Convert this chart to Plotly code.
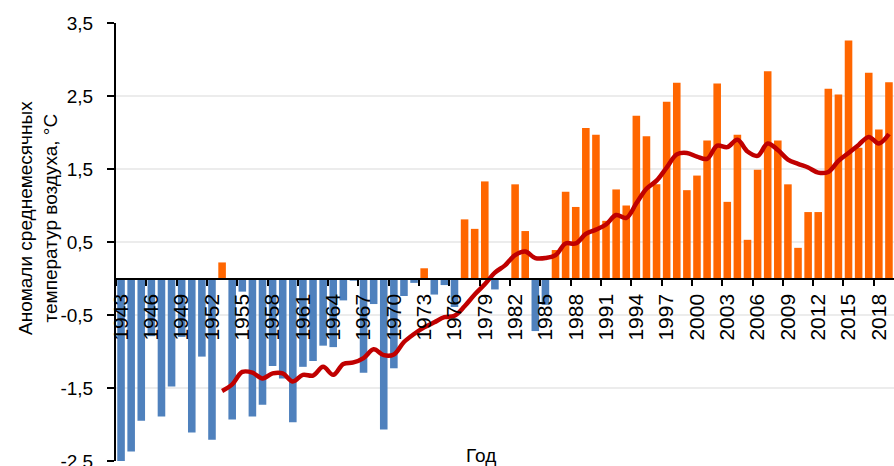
import plotly.graph_objects as go

# ---- data ----
years = list(range(1943, 2020))
anomaly = [
    -2.53, -2.37, -1.95, -0.79, -1.89, -1.48, -0.80, -2.11, -1.07, -2.21,   # 1943-1952
    0.22, -1.93, -0.18, -1.89, -1.73, -1.20, -1.37, -1.97, -1.21, -1.13,    # 1953-1962
    -0.92, -0.94, -0.30, -0.03, -1.29, -0.35, -2.07, -1.23, -0.24, -0.06,   # 1963-1972
    0.14, -0.22, -0.09, -0.39, 0.81, 0.68, 1.33, -0.15, -0.01, 1.29,        # 1973-1982
    0.65, -0.72, -0.36, 0.39, 1.19, 0.98, 2.06, 1.97, 0.79, 1.22,           # 1983-1992
    1.00, 2.23, 1.95, 1.29, 2.42, 2.68, 1.21, 1.41, 1.89, 2.67,             # 1993-2002
    1.05, 1.97, 0.53, 1.49, 2.84, 1.89, 1.29, 0.42, 0.91, 0.91,             # 2003-2012
    2.60, 2.52, 3.26, 1.79, 2.82, 2.04, 2.69,                               # 2013-2019
]
trend_years = list(range(1953, 2020))
trend = [
    -1.54, -1.45, -1.28, -1.29, -1.37, -1.30, -1.30, -1.41, -1.32, -1.33,   # 1953-1962
    -1.21, -1.32, -1.17, -1.15, -1.09, -0.97, -1.05, -1.04, -0.87, -0.76,   # 1963-1972
    -0.67, -0.60, -0.53, -0.51, -0.38, -0.22, -0.08, 0.08, 0.18, 0.32,      # 1973-1982
    0.37, 0.28, 0.28, 0.32, 0.48, 0.48, 0.61, 0.67, 0.74, 0.87,             # 1983-1992
    0.83, 1.03, 1.23, 1.34, 1.52, 1.70, 1.72, 1.67, 1.64, 1.82,             # 1993-2002
    1.80, 1.90, 1.74, 1.68, 1.85, 1.76, 1.63, 1.57, 1.52, 1.45,             # 2003-2012
    1.46, 1.61, 1.72, 1.83, 1.94, 1.85, 1.98,                               # 2013-2019
]
x_tick_years = list(range(1943, 2020, 3))
x_tick_text = [str(y) for y in x_tick_years]
y_tick_vals = [-2.5, -1.5, -0.5, 0.5, 1.5, 2.5, 3.5]
y_tick_text = ["-2,5", "-1,5", "-0,5", "0,5", "1,5", "2,5", "3,5"]
y_title = "Аномали среднемесячных<br>температур воздуха, °C"
x_title = "Год"

# ---- style ----
FONT = "Arial, 'Liberation Sans', sans-serif"
BLUE = "#4f81bd"
ORANGE = "#ff6600"
RED = "#c00000"
bar_colors = [ORANGE if v > 0 else BLUE for v in anomaly]

PLOT_W = 778.0
PLOT_H = 438.0

fig = go.Figure()
fig.add_trace(go.Bar(
    x=years, y=anomaly,
    marker=dict(color=bar_colors, line=dict(width=0)),
    showlegend=False,
))
fig.add_trace(go.Scatter(
    x=trend_years, y=trend, mode="lines",
    line=dict(color=RED, width=4.5, shape="spline", smoothing=1.0),
    showlegend=False,
))

fig.update_layout(
    width=894, height=466,
    margin=dict(l=116, r=0, t=23, b=5, autoexpand=False),
    paper_bgcolor="white", plot_bgcolor="white",
    bargap=0.25,
    font=dict(family=FONT, color="black", size=19),
    xaxis=dict(
        range=[1942.5, 2019.5], automargin=False,
        anchor="free", position=2.5 / 6.0,
        showline=True, linecolor="black", linewidth=2,
        showgrid=False, zeroline=False,
        tickmode="array", tickvals=x_tick_years, ticktext=x_tick_text,
        tickangle=-90, tickfont=dict(family=FONT, size=21, color="black"),
        ticks="outside", ticklen=6, tickcolor="rgba(0,0,0,0)",
        ticklabeloverflow="allow",
        minor=dict(
            tickmode="array", tickvals=[y - 0.5 for y in x_tick_years],
            ticks="outside", ticklen=6, tickwidth=1.5, tickcolor="black",
            showgrid=False,
        ),
    ),
    yaxis=dict(
        range=[-2.5, 3.5], domain=[0, 1], automargin=False,
        tickmode="array", tickvals=y_tick_vals, ticktext=y_tick_text,
        tickfont=dict(family=FONT, size=19, color="black"),
        ticklabelstandoff=10,
        ticklabeloverflow="allow",
        showline=True, linecolor="black", linewidth=2,
        ticks="outside", ticklen=7, tickwidth=1.5, tickcolor="black",
        showgrid=True, gridcolor="#ececec", gridwidth=1.5,
        zeroline=False,
    ),
    annotations=[
        dict(text=y_title, textangle=-90, showarrow=False,
             xref="paper", yref="paper",
             x=(38 - 116) / PLOT_W, y=(461 - 218) / PLOT_H,
             xanchor="center", yanchor="middle",
             font=dict(family=FONT, size=19, color="black")),
        dict(text=x_title, showarrow=False,
             xref="paper", yref="paper",
             x=(481 - 116) / PLOT_W, y=(461 - 443) / PLOT_H,
             xanchor="center", yanchor="top",
             font=dict(family=FONT, size=19, color="black")),
    ],
)

# remove the browser's default 8px body margin so the figure fills the window
fig.write_html(
    "out.html",
    config={"displayModeBar": False},
    post_script="document.body.style.margin='0';document.body.style.overflow='hidden';",
)
